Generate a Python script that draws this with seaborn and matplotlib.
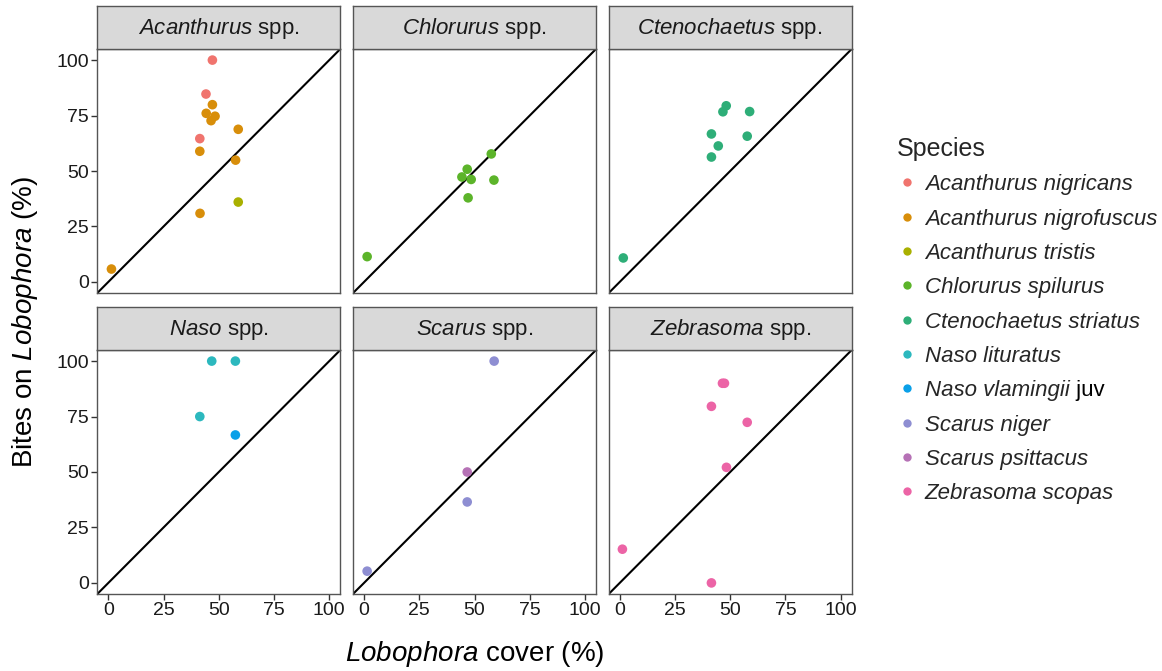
import matplotlib
matplotlib.use("Agg")
import matplotlib.pyplot as plt
from matplotlib.lines import Line2D
import seaborn as sns
import pandas as pd

# ---------------- data ----------------
species = ["Acanthurus nigricans", "Acanthurus nigrofuscus", "Acanthurus tristis",
           "Chlorurus spilurus", "Ctenochaetus striatus", "Naso lituratus",
           "Naso vlamingii juv", "Scarus niger", "Scarus psittacus", "Zebrasoma scopas"]
genus_of = ["Acanthurus", "Acanthurus", "Acanthurus", "Chlorurus", "Ctenochaetus",
            "Naso", "Naso", "Scarus", "Scarus", "Zebrasoma"]
genera = ["Acanthurus", "Chlorurus", "Ctenochaetus", "Naso", "Scarus", "Zebrasoma"]

cover_nigricans = [47.1, 44.2, 41.4]
bites_nigricans = [100, 84.7, 64.6]
cover_nigrofuscus = [47.1, 44.3, 48.3, 46.5, 58.8, 41.4, 57.6, 41.5, 1.4]
bites_nigrofuscus = [79.9, 76.0, 74.7, 72.7, 68.8, 58.9, 54.9, 30.9, 5.8]
cover_tristis = [58.8]
bites_tristis = [36.0]
cover_spilurus = [57.6, 46.7, 44.3, 48.5, 58.8, 47.1, 1.4]
bites_spilurus = [57.7, 50.8, 47.3, 46.2, 45.9, 37.9, 11.4]
cover_striatus = [48.2, 46.7, 58.8, 41.5, 57.7, 44.6, 41.5, 1.6]
bites_striatus = [79.4, 76.7, 76.8, 66.7, 65.7, 61.3, 56.3, 10.8]
cover_lituratus = [46.8, 57.5, 41.4]
bites_lituratus = [100, 100, 75]
cover_vlamingii = [57.5]
bites_vlamingii = [66.7]
cover_niger = [58.9, 46.7, 1.4]
bites_niger = [100, 36.5, 5.3]
cover_psittacus = [46.7]
bites_psittacus = [50]
cover_scopas = [46.5, 47.4, 41.5, 57.7, 48.3, 1.2, 41.5]
bites_scopas = [90, 90, 79.6, 72.4, 52.1, 15.2, 0]

covers = [cover_nigricans, cover_nigrofuscus, cover_tristis, cover_spilurus, cover_striatus,
          cover_lituratus, cover_vlamingii, cover_niger, cover_psittacus, cover_scopas]
bites = [bites_nigricans, bites_nigrofuscus, bites_tristis, bites_spilurus, bites_striatus,
         bites_lituratus, bites_vlamingii, bites_niger, bites_psittacus, bites_scopas]

colors = ["#F0746E", "#D88E0A", "#A9B000", "#5CB42A", "#2EAE78",
          "#2CB8BE", "#0AA0E8", "#8E8ED2", "#B672B6", "#EC64A6"]

ticks = [0, 25, 50, 75, 100]

rows = []
for sp, g, xs, ys in zip(species, genus_of, covers, bites):
    for x, y in zip(xs, ys):
        rows.append({"Species": sp, "Genus": g, "cover": x, "bites": y})
df = pd.DataFrame(rows)
palette = dict(zip(species, colors))

# ---------------- style ----------------
sns.set_theme(style="white")
plt.rcParams["font.family"] = ["Liberation Sans", "DejaVu Sans"]
plt.rcParams["mathtext.fontset"] = "custom"
plt.rcParams["mathtext.rm"] = "Liberation Sans"
plt.rcParams["mathtext.it"] = "Liberation Sans:italic"

W, H = 1162, 671
fig = plt.figure(figsize=(W / 100, H / 100), dpi=100)

col_left = [97.3, 353.0, 608.7]
panel_w = 243.0
row_top = [49.0, 350.0]
panel_h = 244.0
strip_h = 43.0
border = "#555555"

for i, g in enumerate(genera):
    r, c = divmod(i, 3)
    x0 = col_left[c] / W
    y0 = 1 - (row_top[r] + panel_h) / H
    ax = fig.add_axes([x0, y0, panel_w / W, panel_h / H])
    sub = df[df["Genus"] == g]
    ax.axline((0, 0), slope=1, color="black", lw=1.5, zorder=1)
    sns.scatterplot(data=sub, x="cover", y="bites", hue="Species", palette=palette,
                    s=48, edgecolor="none", legend=False, ax=ax, zorder=2)
    ax.set_xlim(-5, 105)
    ax.set_ylim(-5, 105)
    ax.set_xticks(ticks)
    ax.set_yticks(ticks)
    ax.set_xlabel("")
    ax.set_ylabel("")
    for s in ax.spines.values():
        s.set_color(border)
        s.set_linewidth(1.0)
    ax.tick_params(axis="both", length=4, width=1, color="#333333",
                   labelsize=14, labelcolor="#1a1a1a", pad=2,
                   bottom=True, left=True)
    if r == 0:
        ax.tick_params(axis="x", bottom=False, labelbottom=False)
    if c != 0:
        ax.tick_params(axis="y", left=False, labelleft=False)

    # strip
    sax = fig.add_axes([x0, 1 - row_top[r] / H, panel_w / W, strip_h / H])
    sax.set_facecolor("#D9D9D9")
    sax.set_xticks([])
    sax.set_yticks([])
    for s in sax.spines.values():
        s.set_color(border)
        s.set_linewidth(1.0)
    sax.text(0.5, 0.47, r"$\mathit{" + g + "}$ spp.", ha="center", va="center",
             fontsize=16, color="#1a1a1a", transform=sax.transAxes)

# axis titles
mid_x = (col_left[0] + col_left[2] + panel_w) / 2 / W
fig.text(mid_x, 1 - 654 / H, r"$\mathit{Lobophora}$ cover (%)", ha="center", va="center",
         fontsize=20, color="black")
fig.text(25 / W, 1 - 322 / H, r"Bites on $\mathit{Lobophora}$ (%)", ha="center", va="center",
         rotation=90, fontsize=20, color="black")

# legend (italic species names; "juv" added upright afterwards)
leg_labels = [s.replace(" juv", "") for s in species]
handles = [Line2D([0], [0], marker="o", linestyle="none", markersize=6,
                  markerfacecolor=col, markeredgecolor="none") for col in colors]
leg = fig.legend(handles, leg_labels, title="Species", loc="upper left",
                 bbox_to_anchor=(888 / W, 1 - 128 / H), frameon=False,
                 prop={"size": 16, "style": "italic"}, title_fontsize=18,
                 labelspacing=0.6, handletextpad=0.35, handlelength=0.9,
                 borderaxespad=0)
leg._legend_box.align = "left"
fig.canvas.draw()
t = leg.get_texts()[6]
bb = t.get_window_extent()
fig.text(bb.x1 / W, bb.y0 / H, " juv", ha="left", va="bottom", fontsize=16, color="black")

fig.savefig("out.png", dpi=100)
